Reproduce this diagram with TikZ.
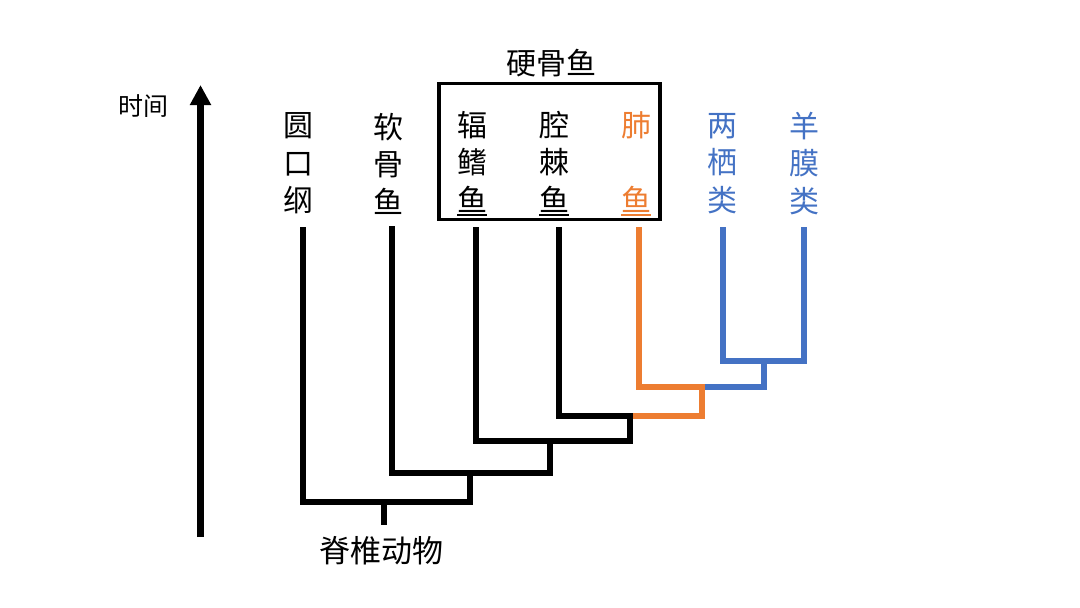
\documentclass[tikz,border=0pt]{standalone}
\usepackage{fontspec}
\setmainfont{Noto Sans CJK SC}
\newcommand\fishul[1]{\setbox0\hbox{#1}\rlap{\rule[-4.5pt]{\wd0}{1.5pt}}\box0}
\usetikzlibrary{arrows.meta}
\definecolor{orangeL}{HTML}{ED7D31}
\definecolor{blueL}{HTML}{4472C4}
\tikzset{
  col/.style={align=center, inner xsep=0pt, inner ysep=11pt, font=\fontsize{30}{37.5}\selectfont},
  lbl/.style={inner sep=0pt, font=\fontsize{30}{36}\selectfont},
  br/.style={line width=6pt, line join=miter},
  blk/.style={br, black},
  org/.style={br, orangeL},
  blu/.style={br, blueL},
}
\begin{document}
\begin{tikzpicture}[x=1pt,y=-1pt]
\useasboundingbox (0,0) rectangle (1080,608);
% time axis
\coordinate (tb) at (200.5,537);
\coordinate (tt) at (200.5,85);
\draw[line width=7pt, -{Triangle[width=20pt,length=20pt]}] (tb) -- (tt);
\node[inner sep=0pt, font=\fontsize{25}{30}\selectfont] (time) at (143,106) {时间};
% columns
\node[col] (n1) at (298,163.5) {圆\\口\\纲};
\node[col] (n2) at (388,163.5) {软\\骨\\鱼};
\node[col] (n3) at (472,163.5) {辐\\鳍\\\fishul{鱼}};
\node[col] (n4) at (554,163.5) {腔\\棘\\\fishul{鱼}};
\node[col, text=orangeL] (n5) at (636,163.5) {肺\\\mbox{}\\\fishul{鱼}};
\node[col, text=blueL] (n6) at (722,163.5) {两\\栖\\类};
\node[col, text=blueL] (n7) at (804,163.5) {羊\\膜\\类};
% bony fish box
\node[draw, line width=3.5pt, inner sep=0pt, minimum width=221pt, minimum height=136pt] (box) at (549.5,151.5) {};
\node[lbl] (bony) at (551,63) {硬骨鱼};
% leaf tops
\coordinate (t1) at (303,227);
\coordinate (t2) at (391.5,226);
\coordinate (t3) at (476,227);
\coordinate (t4) at (559,227);
\coordinate (t5) at (639,227);
\coordinate (t6) at (723,227);
\coordinate (t7) at (803.5,227);
% tree coordinates
\coordinate (rtop) at (384,502);
\coordinate (rbot) at (384,525);
\coordinate (a6) at (470,502);
\coordinate (a5) at (470,472.5);
\coordinate (b5) at (550,472.5);
\coordinate (b4) at (550,440.5);
\coordinate (c4) at (630,440.5);
\coordinate (c3) at (630,416);
\coordinate (d3) at (701.5,416);
\coordinate (d2) at (701.5,386.7);
\coordinate (e2) at (764,386.7);
\coordinate (e1) at (764,361);
% tree
\draw[blu] ([xshift=3pt]d2) -- (e2) -- (e1);
\draw[blu] (t6) |- (e1) -| (t7);
\draw[org] (c3) -- (d3) -- (d2);
\draw[org] (t5) |- ([xshift=3pt]d2);
\draw[blk] (t4) |- ([xshift=3pt]c3);
\draw[blk] (t3) |- (c4) -- (c3);
\draw[blk] (t2) |- (b5) -- (b4);
\draw[blk] (t1) |- (a6) -- (a5);
\draw[blk] (rtop) -- (rbot);
\node[lbl, font=\fontsize{31}{36}\selectfont, anchor=north] (root) at (381.5,536) {脊椎动物};
\end{tikzpicture}
\end{document}
